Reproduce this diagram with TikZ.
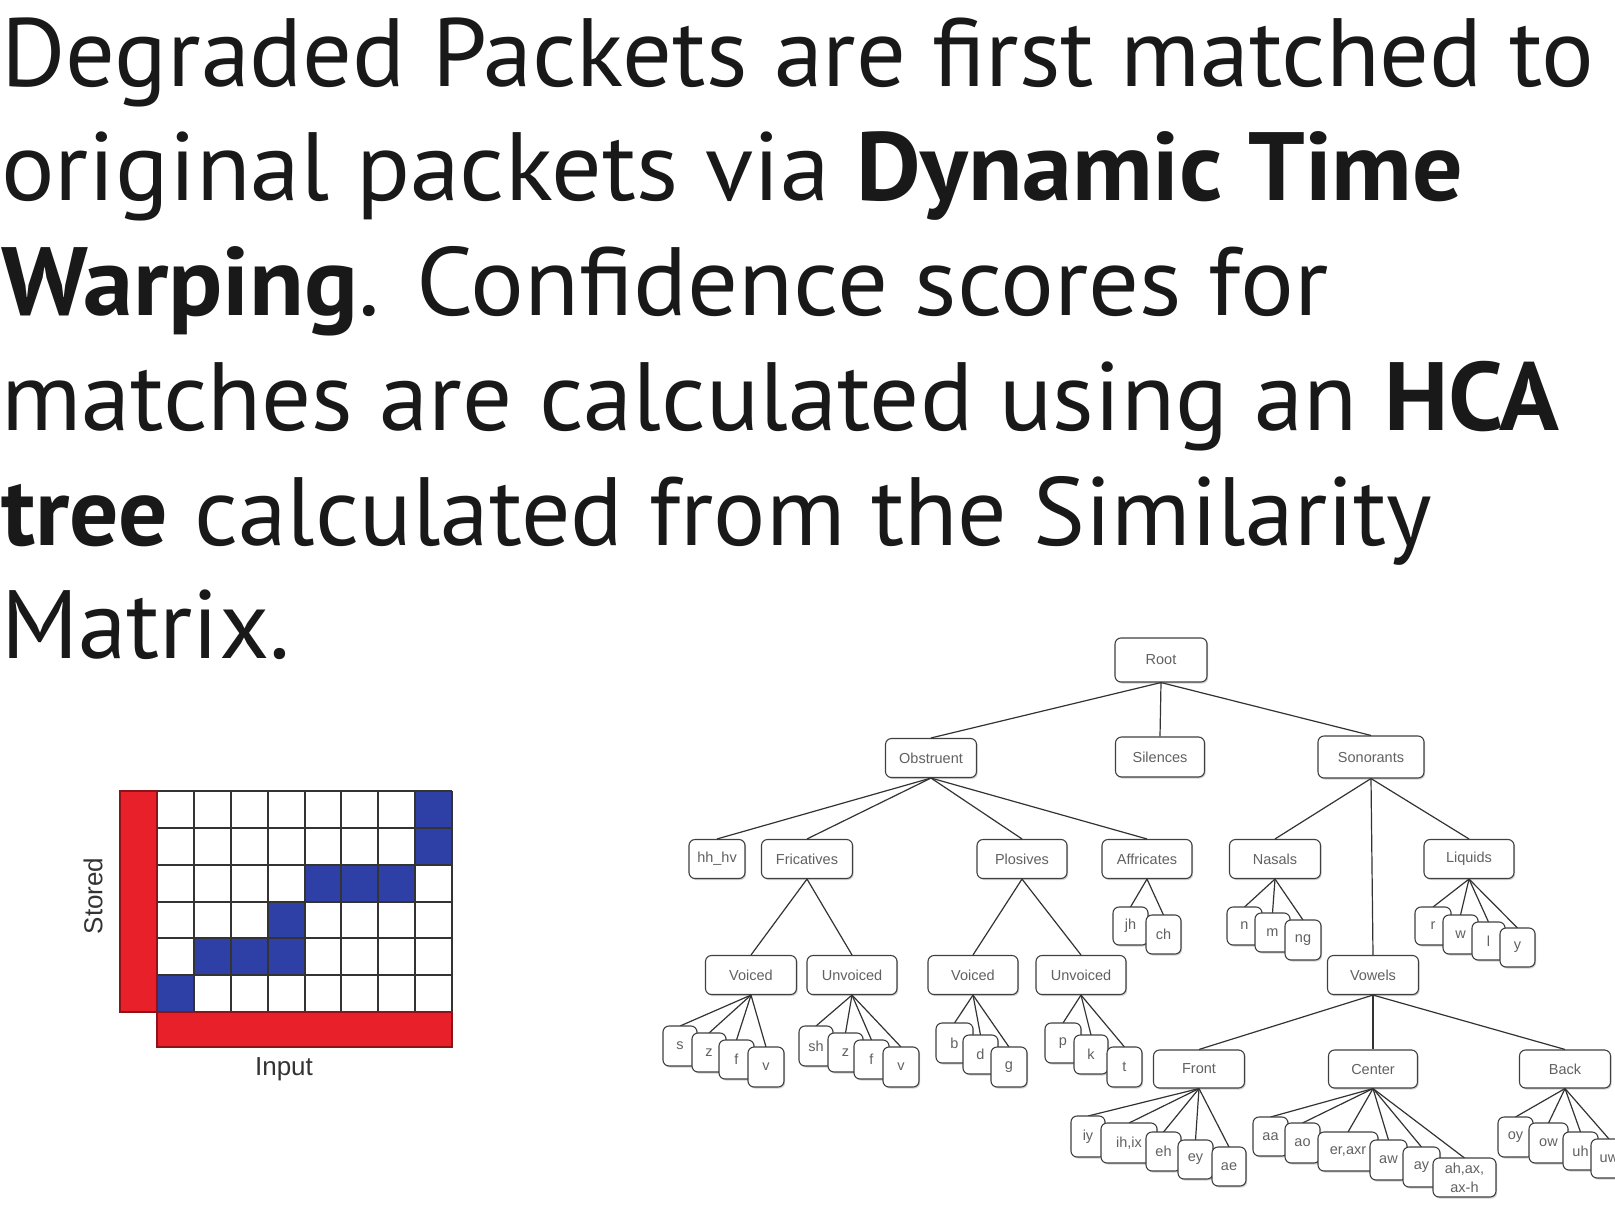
\documentclass[tikz,border=0pt]{standalone}
\usepackage{fontspec}
\setmainfont{PT Sans}
\newfontfamily\nodefont{Liberation Sans}
\usetikzlibrary{shadows}
\definecolor{dtwred}{HTML}{E8202A}
\definecolor{dtwblue}{HTML}{2E3FA6}
\newsavebox\fitbox
\newlength\fitlen
\newcommand\fitto[2]{\sbox\fitbox{#2}\setlength\fitlen{\wd\fitbox}\pgfmathsetmacro\fitsx{#1/\fitlen}\scalebox{\fitsx}[1]{\usebox\fitbox}}
\tikzset{
  para/.style={anchor=base west, inner sep=0pt, font=\fontsize{97}{110}\selectfont, text=black!90},
  tn/.style={draw=black!75, line width=1.1pt, rounded corners=6pt, fill=white, inner sep=0pt,
    font=\nodefont\fontsize{14.5}{16}\selectfont, text=black!62,
    drop shadow={shadow xshift=1.2pt, shadow yshift=-1.5pt, opacity=0.3, fill=black!60}},
  edge/.style={draw=black!80, line width=1.2pt},
  axislabel/.style={font=\nodefont\fontsize{26}{28}\selectfont, text=black!80, inner sep=0pt},
  gridline/.style={draw=black!80, line width=2pt},
  redbar/.style={fill=dtwred, draw=dtwred!60!black, line width=1.5pt}
}
\newcommand\tn[6]{\node[tn, minimum width=#4, minimum height=#5] (#1) at (#2,#3) {#6};}
\begin{document}
\begin{tikzpicture}[x=1pt,y=-1pt]
\useasboundingbox (0,0) rectangle (1615,1210);
\fill[white] (0,0) rectangle (1615,1210);

% ---- paragraph ----
\node[para] (l1) at (1,86) {\fitto{1593}{Degraded Packets are first matched to}};
\node[para] (l2) at (1,200) {\fitto{1462}{original packets via \textbf{Dynamic Time}}};
\node[para] (l3) at (1,315) {\fitto{1327}{\textbf{Warping}. Confidence scores for}};
\node[para] (l4) at (1,430) {\fitto{1558}{matches are calculated using an \textbf{HCA}}};
\node[para] (l5) at (1,545) {\fitto{1431}{\textbf{tree} calculated from the Similarity}};
\node[para] (l6) at (1,658) {\fitto{289}{Matrix.}};

% ---- DTW grid ----
\def\gx{157}\def\gy{791}\def\cw{36.875}\def\ch{36.833}
\foreach \c/\r in {0/5,1/4,2/4,3/4,3/3,4/2,5/2,6/2,7/1,7/0}{
  \fill[dtwblue] ({\gx+\c*\cw},{\gy+\r*\ch}) rectangle ({\gx+(\c+1)*\cw},{\gy+(\r+1)*\ch});
}
\foreach \i in {0,...,8}{ \draw[gridline] ({\gx+\i*\cw},\gy) -- ({\gx+\i*\cw},1012); }
\foreach \j in {0,...,6}{ \draw[gridline] (\gx,{\gy+\j*\ch}) -- (452,{\gy+\j*\ch}); }
\draw[redbar] (120,791) rectangle (157,1012);
\draw[redbar] (157,1012) rectangle (452,1047);
\node[axislabel, rotate=90] (stored) at (93,896) {Stored};
\node[axislabel, anchor=base] (input) at (284,1075) {Input};

% ---- tree ----
\tn{root}{1161}{660}{92}{44}{Root}
\tn{obs}{931}{758}{91}{39}{Obstruent}
\tn{sil}{1160}{757}{89}{40}{Silences}
\tn{son}{1371}{757}{106}{42}{Sonorants}
\draw[edge] (root.south) -- (obs.north);
\draw[edge] (root.south) -- (sil.north);
\draw[edge] (root.south) -- (son.north);

\tn{hh}{717}{859}{56}{39}{hh\_hv}
\tn{fric}{807}{859}{91}{39}{Fricatives}
\tn{plos}{1022}{859}{90}{39}{Plosives}
\tn{affr}{1147}{859}{90}{39}{Affricates}
\tn{nas}{1275}{859}{91}{39}{Nasals}
\tn{liq}{1469}{859}{90}{39}{Liquids}
\foreach \ch in {hh,fric,plos,affr}{ \draw[edge] (obs.south) -- (\ch.north); }
\draw[edge] (son.south) -- (nas.north);
\draw[edge] (son.south) -- (liq.north);

\tn{vf}{751}{975}{91}{39}{Voiced}
\tn{uf}{852}{975}{90}{39}{Unvoiced}
\tn{vp}{973}{975}{90}{39}{Voiced}
\tn{up}{1081}{975}{90}{39}{Unvoiced}
\tn{vow}{1373}{975}{91}{39}{Vowels}
\draw[edge] (fric.south) -- (vf.north);
\draw[edge] (fric.south) -- (uf.north);
\draw[edge] (plos.south) -- (vp.north);
\draw[edge] (plos.south) -- (up.north);
\draw[edge] (son.south) -- (vow.north);

\tn{front}{1199}{1069}{91}{38}{Front}
\tn{center}{1373}{1069}{89}{38}{Center}
\tn{back}{1565}{1069}{91}{38}{Back}
\draw[edge] (vow.south) -- (front.north);
\draw[edge] (vow.south) -- (center.north);
\draw[edge] (vow.south) -- (back.north);

% leaf edges first, then leaf boxes
\foreach \p/\l/\x/\y in {
  vf/s/680/1026, vf/z1/709/1033, vf/f1/736.5/1040, vf/v1/766/1047,
  uf/sh/816/1026, uf/z2/845.5/1033, uf/f2/871.5/1040, uf/v2/901/1047,
  vp/b/954.5/1023, vp/d/980.5/1035, vp/g/1009/1047,
  up/p/1063/1023, up/k/1091/1035, up/t/1124.5/1047,
  affr/jh/1130.5/907, affr/ch/1163.5/915,
  nas/n/1244.5/907, nas/m/1272.5/913, nas/ng/1303/920,
  liq/r/1433/907, liq/w/1460.5/915, liq/l/1488.5/922, liq/y/1517.5/928,
  front/iy/1088/1116, front/ihix/1129/1123, front/eh/1163.5/1132, front/ey/1195.5/1140, front/ae/1229/1147,
  center/aa/1270.5/1117, center/ao/1302.5/1123, center/eraxr/1348/1132, center/aw/1388.5/1140, center/ay/1421.5/1147, center/ahax/1464.5/1158,
  back/oy/1515.5/1117, back/ow/1548.5/1123, back/uh/1580.5/1132, back/uw/1609/1139}{
  \coordinate (\l top) at (\x,\y);
  \draw[edge] (\p.south) -- (\l top);
}

\tn{s}{680}{1046}{34}{40}{s}
\tn{z1}{709}{1052.5}{34}{39}{z}
\tn{f1}{736.5}{1059.5}{35}{39}{f}
\tn{v1}{766}{1067}{36}{40}{v}
\tn{sh}{816}{1046}{34}{40}{sh}
\tn{z2}{845.5}{1052.5}{35}{39}{z}
\tn{f2}{871.5}{1059.5}{35}{39}{f}
\tn{v2}{901}{1067}{36}{40}{v}
\tn{b}{954.5}{1043}{37}{40}{b}
\tn{d}{980.5}{1054.5}{35}{39}{d}
\tn{g}{1009}{1067}{36}{40}{g}
\tn{p}{1063}{1043}{36}{40}{p}
\tn{k}{1091}{1054.5}{34}{39}{k}
\tn{t}{1124.5}{1067}{35}{40}{t}
\tn{jh}{1130.5}{926}{35}{38}{jh}
\tn{ch}{1163.5}{934.5}{35}{39}{ch}
\tn{n}{1244.5}{926}{35}{38}{n}
\tn{m}{1272.5}{932.5}{35}{39}{m}
\tn{ng}{1303}{940}{36}{40}{ng}
\tn{r}{1433}{926}{36}{38}{r}
\tn{w}{1460.5}{934.5}{35}{39}{w}
\tn{l}{1488.5}{941}{33}{38}{l}
\tn{y}{1517.5}{947.5}{35}{39}{y}
\tn{iy}{1088}{1136.5}{34}{41}{iy}
\tn{ihix}{1129}{1143}{56}{40}{ih,ix}
\tn{eh}{1163.5}{1151.5}{35}{39}{eh}
\tn{ey}{1195.5}{1159.5}{35}{39}{ey}
\tn{ae}{1229}{1166.5}{34}{39}{ae}
\tn{aa}{1270.5}{1136.5}{35}{39}{aa}
\tn{ao}{1302.5}{1143}{35}{40}{ao}
\tn{eraxr}{1348}{1151.5}{60}{39}{er,axr}
\tn{aw}{1388.5}{1160}{37}{40}{aw}
\tn{ay}{1421.5}{1167}{37}{40}{ay}
\node[tn, minimum width=63, minimum height=39, align=center, font=\nodefont\fontsize{14.5}{19}\selectfont] (ahax) at (1464.5,1177.5) {ah,ax,\\ax-h};
\tn{oy}{1515.5}{1137}{35}{40}{oy}
\tn{ow}{1548.5}{1143}{39}{40}{ow}
\tn{uh}{1580.5}{1151}{35}{38}{uh}
\tn{uw}{1609}{1158.5}{36}{39}{uw}
\end{tikzpicture}
\end{document}
